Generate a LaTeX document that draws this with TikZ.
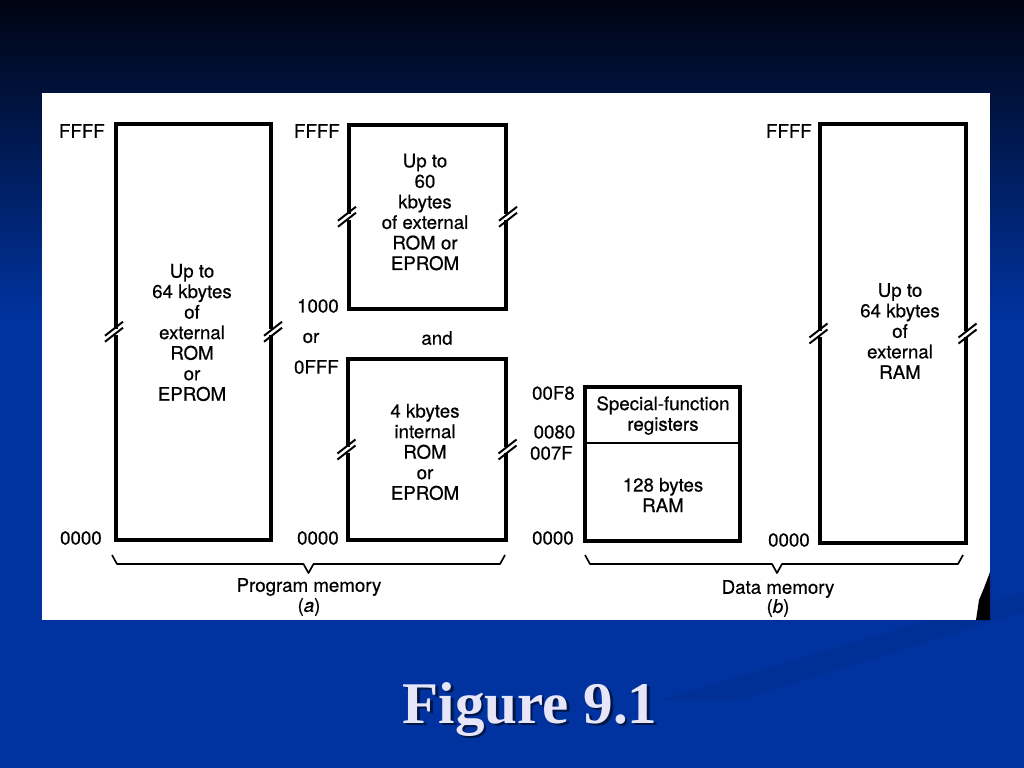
\documentclass[tikz,border=0pt]{standalone}
\usepackage{fontspec}
\setmainfont[FakeBold=0.5]{TeX Gyre Heros}
\newfontfamily\titlefont{Liberation Serif}
\usetikzlibrary{calc, positioning}

\definecolor{slidebg}{HTML}{0033A0}
\definecolor{slidemid}{HTML}{00226E}
\definecolor{slidetop}{HTML}{000412}
\definecolor{titlecol}{HTML}{E6E6F8}
\newcommand{\memfont}{\fontsize{13.3}{14.6}\selectfont}

\begin{document}
\begin{tikzpicture}[x=0.025cm, y=-0.025cm,
	break mark/.pic={
		\fill[white] (-4,-3) rectangle (4,3);
		\draw[line width=1.4pt] (-9,4) -- (9,-10);
		\draw[line width=1.4pt] (-9,10) -- (9,-4);
	}]
	\useasboundingbox (0,0) rectangle (1024,768);

	% slide background and scanned page
	\fill[slidebg] (0,0) rectangle (1024,768);
	\shade[top color=slidetop, middle color=slidemid, bottom color=slidebg] (0,0) rectangle (1024,320);
	\fill[black, opacity=0.06] (660,700) -- (1024,592) -- (1024,612) -- (740,700) -- cycle;
	\fill[white] (42,93) rectangle (990,620);
	\fill[black] (990,572) -- (984,588) -- (979,600) -- (976,620) -- (990,620) -- cycle;

	% define the styles of the memory maps
	\tikzstyle{mem box} = [draw, line width=2.85pt, inner sep=0pt]
	\tikzstyle{mem text} = [align=center, font=\memfont, inner sep=0pt]
	\tikzstyle{addr label} = [anchor=east, font=\memfont, inner sep=0pt]

	\node[mem box, minimum width=3.875cm, minimum height=10.3875cm] (romA) at (193.5,331.75) {};
	\node[mem box, minimum width=3.925cm, minimum height=4.5875cm] (romB) at (427.5,216.75) {};
	\node[mem box, minimum width=3.925cm, minimum height=4.5cm] (romC) at (427,449.5) {};
	\node[mem box, minimum width=3.8625cm, minimum height=3.825cm] (sfr) at (662.75,464) {};
	\node[mem box, minimum width=3.625cm, minimum height=10.45cm] (ramX) at (893,333.5) {};
	\draw[line width=1.3pt] (sfr.west |- 0,443) -- (sfr.east |- 0,443);

	\foreach \b in {romA, romB, romC, ramX} {
		\pic at (\b.west) {break mark};
		\pic at (\b.east) {break mark};
	}

	\node[mem text] (romAtxt) at ($(romA.center)+(-1.5,0.75)$) {Up to\\64 kbytes\\of\\external\\ROM\\or\\EPROM};
	\node[mem text] (romBtxt) at ($(romB.center)+(-2.5,-4.75)$) {Up to\\60\\kbytes\\of external\\ROM or\\EPROM};
	\node[mem text] (romCtxt) at ($(romC.center)+(-2,2.5)$) {4 kbytes\\internal\\ROM\\or\\EPROM};
	\node[mem text] (sfrtxt) at (663,415.5) {Special-function\\registers};
	\node[mem text] (iramtxt) at (663,495) {128 bytes\\RAM};
	\node[mem text] (ramXtxt) at ($(ramX.center)+(7,-2.5)$) {Up to\\64 kbytes\\of\\external\\RAM};

	% addresses
	\node[addr label] (a1) at (105,131) {FFFF};
	\node[addr label] (a2) at (102,538) {0000};
	\node[addr label] (a3) at (340,131) {FFFF};
	\node[addr label] (a4) at (339,306) {1000};
	\node[addr label] (a5) at (339,367) {0FFF};
	\node[addr label] (a6) at (339,538) {0000};
	\node[addr label] (a7) at (575,393) {00F8};
	\node[addr label] (a8) at (575.5,432) {0080};
	\node[addr label] (a9) at (573,453) {007F};
	\node[addr label] (a10) at (574,538) {0000};
	\node[addr label] (a11) at (812,131) {FFFF};
	\node[addr label] (a12) at (810,540) {0000};
	\node[mem text] (ortxt) at (311,338) {or};
	\node[mem text] (andtxt) at (437,338) {and};

	% braces and captions
	\foreach \l/\r/\m in {112/505/308.5, 585/963/777}
		\draw[line width=1.2pt, line join=round] (\l,555) -- (\l+5,564) -- (\m-5,564) -- (\m,573) -- (\m+5,564) -- (\r-5,564) -- (\r,555);
	\node[mem text] (progcap) at (309,587) {Program memory};
	\node[mem text] (progsub) at (309,607) {(\textit{a})};
	\node[mem text] (datacap) at (778,589) {Data memory};
	\node[mem text] (datasub) at (778,608) {(\textit{b})};

	% slide title
	\node[anchor=base, text=black, opacity=0.55, font=\titlefont\bfseries\fontsize{42}{50}\selectfont] (titleshadow) at (532.5,725.5) {Figure 9.1};
	\node[anchor=base, text=titlecol, font=\titlefont\bfseries\fontsize{42}{50}\selectfont] (title) at (530,723) {Figure 9.1};
\end{tikzpicture}
\end{document}
